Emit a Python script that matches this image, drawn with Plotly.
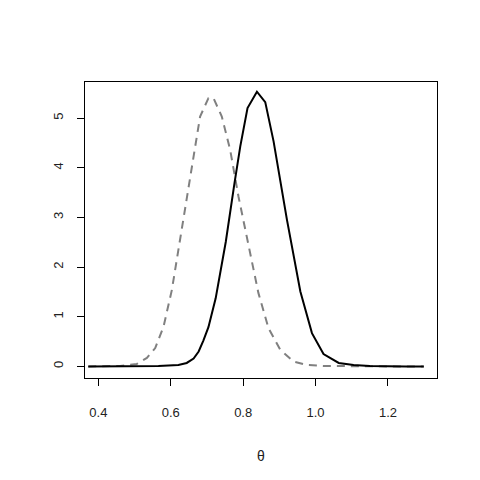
import plotly.graph_objects as go

# posterior (solid)
theta_post = [0.372, 0.45, 0.52, 0.566, 0.621, 0.644, 0.663, 0.677, 0.690, 0.704,
              0.724, 0.752, 0.776, 0.792, 0.812, 0.838, 0.861, 0.884, 0.921,
              0.958, 0.990, 1.022, 1.064, 1.105, 1.15, 1.20, 1.25, 1.299]
dens_post = [0.0, 0.0, 0.0, 0.01, 0.03, 0.07, 0.16, 0.30, 0.52, 0.79,
             1.37, 2.51, 3.69, 4.43, 5.20, 5.53, 5.32, 4.53, 2.95,
             1.51, 0.67, 0.25, 0.07, 0.03, 0.01, 0.0, 0.0, 0.0]

# prior / comparison (dashed grey)
theta_prior = [0.372, 0.42, 0.46, 0.506, 0.534, 0.557, 0.580, 0.603, 0.621, 0.644,
               0.663, 0.681, 0.704, 0.718, 0.741, 0.764, 0.787, 0.815, 0.842,
               0.870, 0.902, 0.939, 0.976, 1.022, 1.10, 1.20, 1.299]
dens_prior = [0.0, 0.0, 0.01, 0.05, 0.17, 0.37, 0.80, 1.54, 2.35, 3.42,
              4.29, 5.03, 5.40, 5.40, 5.03, 4.36, 3.42, 2.41, 1.48,
              0.77, 0.34, 0.10, 0.03, 0.01, 0.0, 0.0, 0.0]

x_ticks = [0.4, 0.6, 0.8, 1.0, 1.2]
y_ticks = [0, 1, 2, 3, 4, 5]

FONT = "Liberation Sans, Arial, sans-serif"

fig = go.Figure()

fig.add_trace(go.Scatter(
    x=theta_prior, y=dens_prior, mode="lines",
    line=dict(color="#808080", width=2, dash="8px,6px"),
    showlegend=False,
))
fig.add_trace(go.Scatter(
    x=theta_post, y=dens_post, mode="lines",
    line=dict(color="black", width=2),
    showlegend=False,
))

axis_common = dict(
    showline=True, mirror=True, linecolor="black", linewidth=1,
    ticks="outside", ticklen=7, tickcolor="black", tickwidth=1,
    showgrid=False, zeroline=False,
    tickfont=dict(family=FONT, size=13, color="#222"),
)

fig.update_xaxes(
    range=[0.363, 1.3355], tickvals=x_ticks,
    ticktext=[f"{v:.1f}" for v in x_ticks],
    ticklabelstandoff=15, **axis_common,
)
fig.update_yaxes(
    range=[-0.233, 5.725], tickvals=y_ticks,
    tickangle=-90, ticklabelstandoff=9, **axis_common,
)

fig.add_annotation(
    xref="paper", yref="paper", x=0.5, y=0, yshift=-88,
    text="θ", showarrow=False,
    font=dict(family=FONT, size=14, color="#222"),
)

# page body adds an 8px offset, so the figure is a bit smaller than the window
fig.update_layout(
    width=472, height=472,
    margin=dict(l=77, r=43, t=74, b=102),
    paper_bgcolor="white", plot_bgcolor="white",
)

fig.write_html("out.html")
